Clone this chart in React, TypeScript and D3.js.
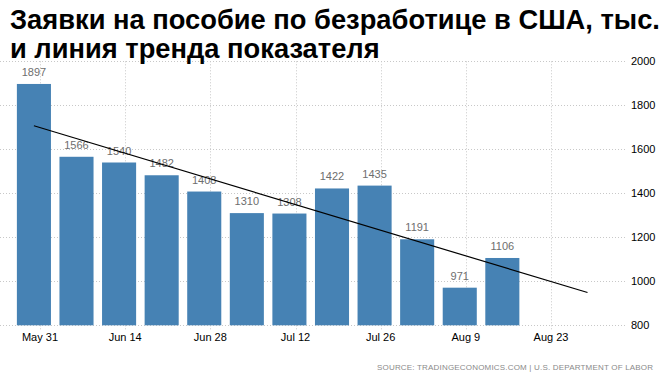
import React from "react";
import * as d3 from "d3";

const weekEnding = [
  "2020-05-30", "2020-06-06", "2020-06-13", "2020-06-20", "2020-06-27", "2020-07-04",
  "2020-07-11", "2020-07-18", "2020-07-25", "2020-08-01", "2020-08-08", "2020-08-15",
];
const claims = [1897, 1566, 1540, 1482, 1408, 1310, 1308, 1422, 1435, 1191, 971, 1106];
const trendDates = ["2020-05-30", "2020-08-29"];
const trendValues = [1707, 949];
const xTickDates = ["2020-05-31", "2020-06-14", "2020-06-28", "2020-07-12", "2020-07-26", "2020-08-09", "2020-08-23"];
const yTicks = [800, 1000, 1200, 1400, 1600, 1800, 2000];
const titleLines = ["Заявки на пособие по безработице в США, тыс.", "и линия тренда показателя"];
const sourceText = "SOURCE: TRADINGECONOMICS.COM | U.S. DEPARTMENT OF LABOR";

const W = 668;
const H = 379;
const parse = d3.utcParse("%Y-%m-%d");
const fmt = d3.utcFormat("%b %-d");

export default function App() {
  const x = d3
    .scaleUtc()
    .domain([parse("2020-05-31")!, parse("2020-08-23")!])
    .range([40, 551]);
  const y = d3.scaleLinear().domain([800, 2000]).range([325.3, 61.3]);
  const dayPx = x(parse("2020-06-07")!) - x(parse("2020-05-31")!);
  const barW = dayPx * 0.8;
  const gridRight = 627;
  const line = d3
    .line<[Date, number]>()
    .x((d) => x(d[0]))
    .y((d) => y(d[1]));
  const trend: [Date, number][] = trendDates.map((d, i) => [parse(d)!, trendValues[i]]);

  return (
    <svg
      width={W}
      height={H}
      style={{ position: "absolute", left: 0, top: 0, background: "#fff" }}
      fontFamily="'Liberation Sans', Arial, sans-serif"
    >
      {yTicks.map((t) => (
        <line
          key={"hg" + t}
          x1={0}
          x2={gridRight}
          y1={Math.round(y(t)) + 0.5}
          y2={Math.round(y(t)) + 0.5}
          stroke="#c8c8c8"
          strokeDasharray="1,2"
        />
      ))}
      {xTickDates.map((d) => {
        const xx = Math.round(x(parse(d)!)) + 0.5;
        return (
          <line key={"vg" + d} x1={xx} x2={xx} y1={y(2000)} y2={y(800) + 5} stroke="#c8c8c8" strokeDasharray="1,2" />
        );
      })}
      {claims.map((v, i) => {
        const cx = x(parse(weekEnding[i])!);
        return (
          <rect key={"b" + i} x={cx - barW / 2} y={y(v)} width={barW} height={y(800) - y(v)} fill="#4682b4" />
        );
      })}
      {claims.map((v, i) => {
        const cx = x(parse(weekEnding[i])!);
        return (
          <text key={"l" + i} x={cx} y={y(v) - 8} textAnchor="middle" fontSize={11} fill="#6e6e6e">
            {v}
          </text>
        );
      })}
      <path d={line(trend) || ""} fill="none" stroke="#000" strokeWidth={1.2} />
      {yTicks.map((t) => (
        <text key={"yt" + t} x={631} y={y(t) + 4} fontSize={11} fill="#000">
          {t}
        </text>
      ))}
      {xTickDates.map((d) => (
        <text key={"xt" + d} x={x(parse(d)!)} y={341} fontSize={11} fill="#000" textAnchor="middle">
          {fmt(parse(d)!)}
        </text>
      ))}
      {titleLines.map((s, i) => (
        <text key={"t" + i} x={10} y={29 + i * 29} fontSize={27.3} fontWeight="bold" fill="#000">
          {s}
        </text>
      ))}
      <text
        x={377}
        y={370}
        fontSize={8}
        fill="#8a8a8a"
        textLength={276}
        lengthAdjust="spacing"
      >
        {sourceText}
      </text>
    </svg>
  );
}
